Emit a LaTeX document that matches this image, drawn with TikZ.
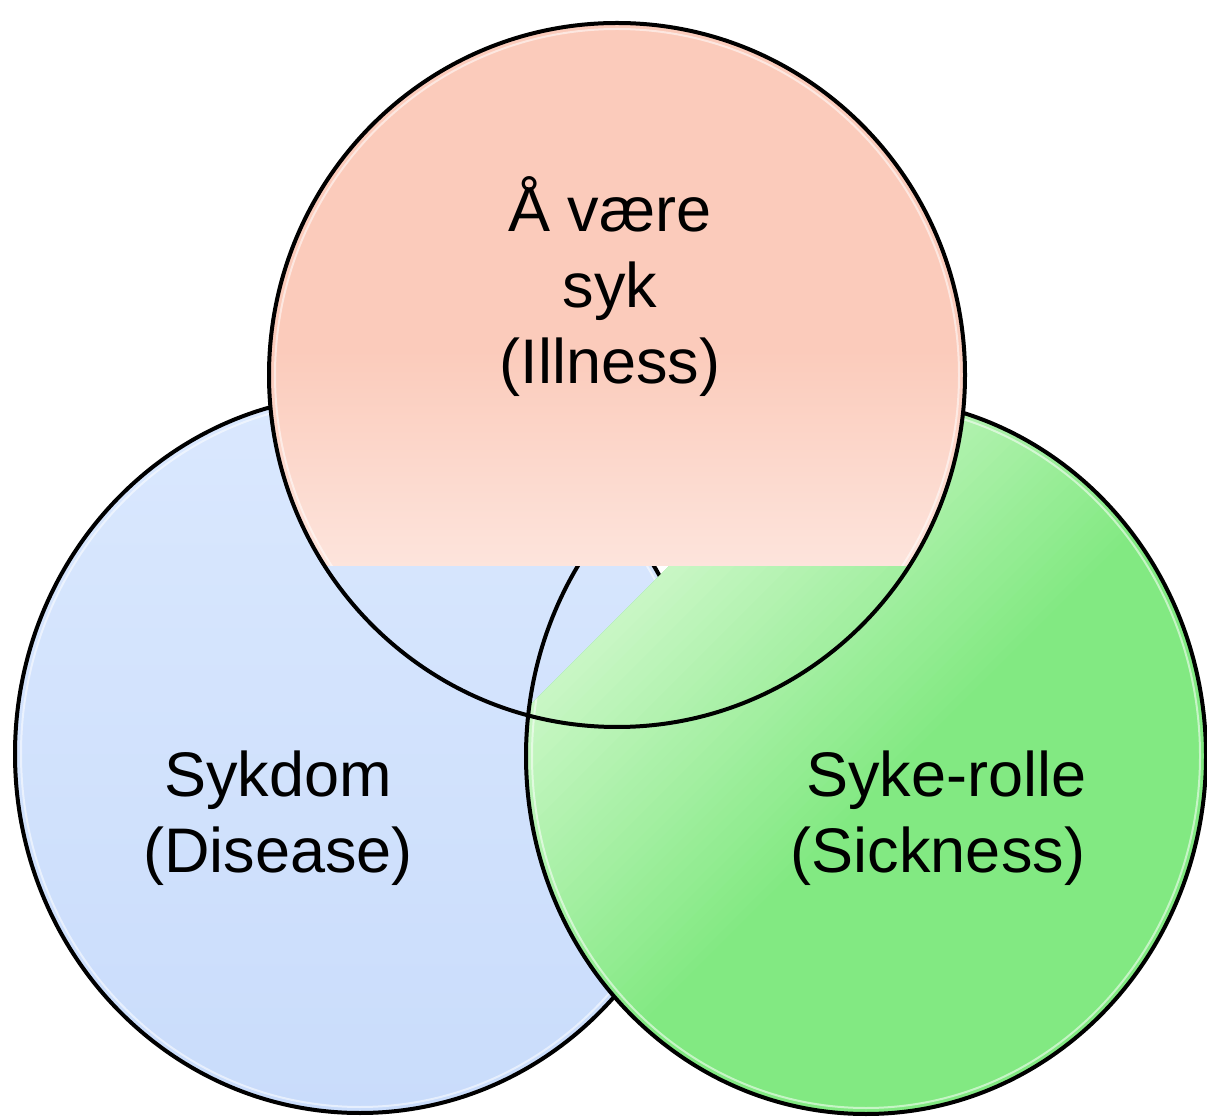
\documentclass[tikz,border=0pt]{standalone}
\usepackage{fontspec}
\setmainfont{Liberation Sans}
\definecolor{pinkA}{HTML}{FBCBBB}
\definecolor{pinkB}{HTML}{FDE4DC}
\definecolor{blueA}{HTML}{DAE8FE}
\definecolor{blueB}{HTML}{C9DCFB}
\definecolor{grnL}{HTML}{C8F6C4}
\definecolor{grnD}{HTML}{82E982}
\begin{document}
\begin{tikzpicture}[x=1pt,y=1pt,
  outline/.style={draw=black, line width=4pt},
  sheen/.style={draw=white, opacity=0.55, line width=2pt},
  lbl/.style={font=\fontsize{63}{76}\selectfont, align=center, inner sep=0pt}]
\useasboundingbox (0,0) rectangle (1207,1117);
\fill[white] (0,0) rectangle (1207,1117);

% blue circle (Sykdom)
\coordinate (bc) at (360,363);
\shade[top color=blueA, bottom color=blueB] (bc) ellipse [x radius=345, y radius=359];
\draw[sheen] (bc) ellipse [x radius=339, y radius=353];
\draw[outline] (bc) ellipse [x radius=345, y radius=359];

% green circle (Syke-rolle)
\coordinate (gc) at (866,361);
\begin{scope}
  \clip (gc) ellipse [x radius=340, y radius=358];
  \clip (108,-10) -- (1245,1127) -- (1300,1127) -- (1300,-10) -- cycle;
  \fill[grnD] (0,0) rectangle (1207,1117);
  \foreach \i in {0,...,39} {
    \pgfmathsetmacro{\da}{118+11*\i}
    \pgfmathsetmacro{\db}{\da+12}
    \pgfmathtruncatemacro{\p}{100*\i/39}
    \fill[grnD!\p!grnL] (\da-10,-10) -- (\da+1137,1137) -- (\db+1137,1137) -- (\db-10,-10) -- cycle;
  }
  \draw[sheen] (gc) ellipse [x radius=334, y radius=352];
\end{scope}
\draw[outline] (gc) ellipse [x radius=340, y radius=358];

% pink circle (Illness)
\coordinate (pc) at (617,742);
\begin{scope}
  \clip (pc) ellipse [x radius=348, y radius=352];
  \clip (0,551) rectangle (1207,1117);
  \fill[pinkA] (0,766) rectangle (1207,1117);
  \shade[top color=pinkA, bottom color=pinkB] (0,551) rectangle (1207,767);
  \draw[sheen] (pc) ellipse [x radius=342, y radius=346];
\end{scope}
\draw[outline] (pc) ellipse [x radius=348, y radius=352];

% labels
\node[lbl] (ill) at (610,830) {Å være\\syk\\(Illness)};
\node[lbl] (dis) at (278,299) {Sykdom\\(Disease)};
\node[lbl] (sic) at (938,299) {\kern17pt Syke-rolle\\(Sickness)};
\end{tikzpicture}
\end{document}
